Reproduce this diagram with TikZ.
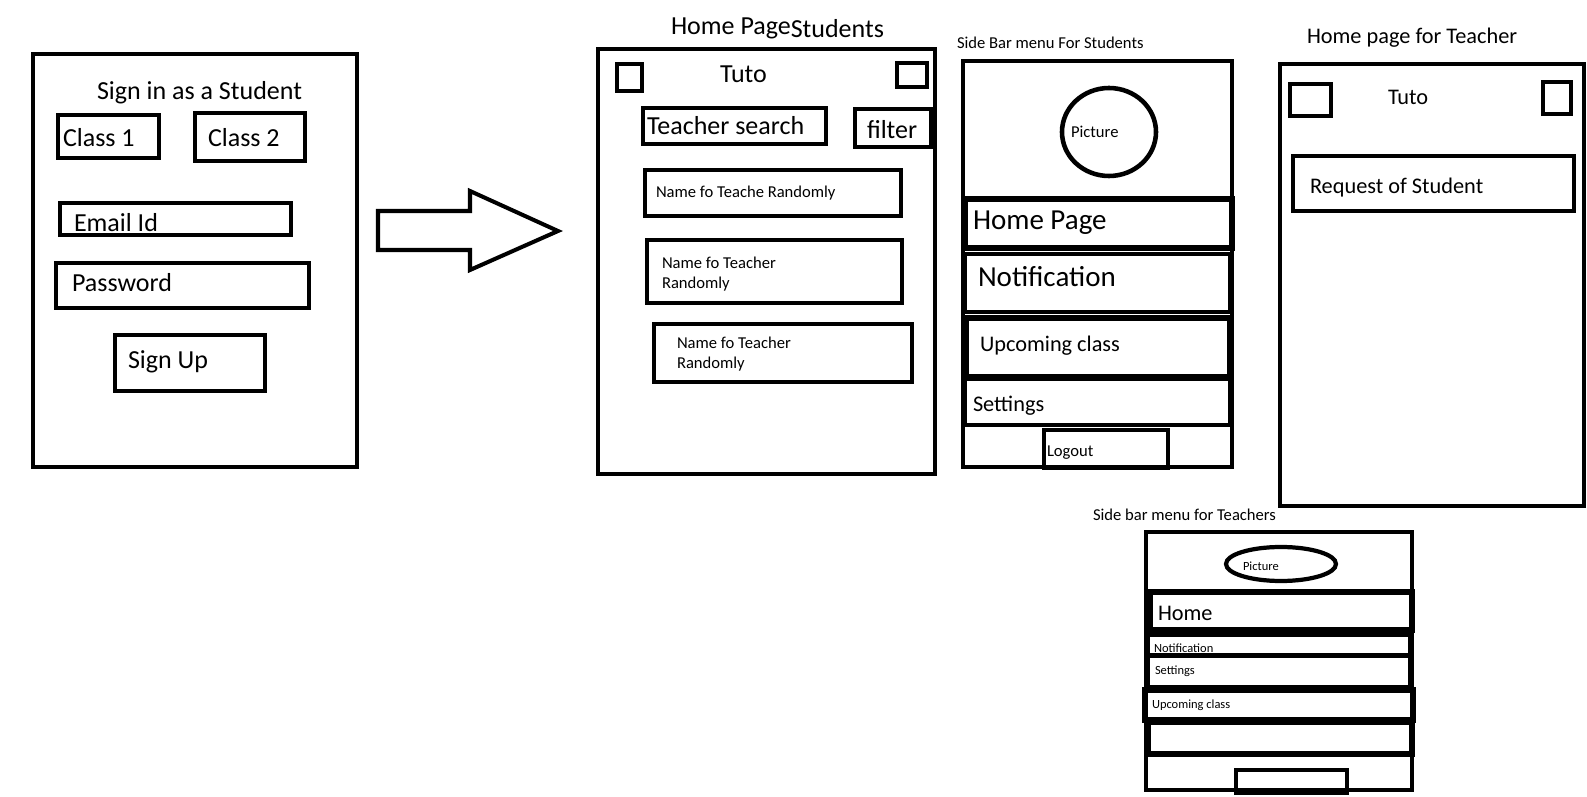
\documentclass[tikz,border=0pt]{standalone}
\usepackage{fontspec}
\setmainfont{Carlito}
\usetikzlibrary{fit}
\begin{document}
\begin{tikzpicture}[x=0.02cm,y=-0.02cm,
  box/.style={draw, inner sep=0pt, outer sep=0pt, line width=2.55pt},
  thk/.style={line width=3.3pt},
  thn/.style={line width=2.2pt},
  txt/.style={inner sep=0pt, outer sep=0pt, anchor=base west, yshift=-0.9pt},
  fXL/.style={font=\fontsize{16.5pt}{19pt}\selectfont},
  fL/.style={font=\fontsize{14.8pt}{17pt}\selectfont},
  fM/.style={font=\fontsize{12.7pt}{15pt}\selectfont},
  fS/.style={font=\fontsize{9.45pt}{11.3pt}\selectfont},
  fXS/.style={font=\fontsize{7.1pt}{8.5pt}\selectfont}]
\useasboundingbox (0,0) rectangle (1587,797);

% ---------- Sign in as a Student ----------
\node[box, fit={(33,54) (357,467)}] (signin) {};
\node[txt, fL] (tsignin) at (97,98) {Sign in as a Student};
\node[box, fit={(58,115) (159,158)}] (class1) {};
\node[txt, fL] (tclass1) at (63,145) {Class 1};
\node[box, fit={(195,113) (305,161)}] (class2) {};
\node[txt, fL] (tclass2) at (208,145) {Class 2};
\node[box, fit={(60,203) (291,235)}] (email) {};
\node[txt, fL] (temail) at (74,230) {Email Id};
\node[box, fit={(56,263) (309,308)}] (pass) {};
\node[txt, fL] (tpass) at (72,290) {Password};
\node[box, fit={(115,335) (265,391)}] (signup) {};
\node[txt, fL] (tsignup) at (128,367) {Sign Up};

% ---------- block arrow ----------
\draw[line width=2.3pt, line join=miter] (378,211) -- (470,211) -- (470,191) -- (558,231)
  -- (470,270) -- (470,250) -- (378,250) -- cycle;

% ---------- Home Page Students ----------
\node[txt, fL] (thome) at (671,33) {Home Page\raisebox{-1.5pt}{Students}};
\node[box, fit={(598,49) (935,474)}] (home) {};
\node[box, fit={(617,64) (642,91)}] (hsq1) {};
\node[box, fit={(897,63) (927,87)}] (hsq2) {};
\node[txt, fL] (htuto) at (720,81) {Tuto};
\node[box, fit={(643,108) (826,144)}] (search) {};
\node[txt, fL] (tsearch) at (647,133) {Teacher search};
\node[box, fit={(855,109) (931,147)}] (filter) {};
\node[txt, fL] (tfilter) at (867,137) {filter};
\node[box, fit={(645,170) (901,216)}] (name1) {};
\node[txt, fS] (tname1) at (656,196) {Name fo Teache Randomly};
\node[box, fit={(647,240) (902,303)}] (name2) {};
\node[txt, fS] (tname2a) at (662,267) {Name fo Teacher};
\node[txt, fS] (tname2b) at (662,287) {Randomly};
\node[box, fit={(654,324) (912,382)}] (name3) {};
\node[txt, fS] (tname3a) at (677,347) {Name fo Teacher};
\node[txt, fS] (tname3b) at (677,367) {Randomly};

% ---------- Side Bar menu For Students ----------
\node[txt, fS] (tsbs) at (957,47) {Side Bar menu For Students};
\node[box, fit={(963,61) (1232,467)}] (sbs) {};
\draw[line width=2.6pt] (1109,132) ellipse [x radius=47, y radius=44];
\node[txt, fS] (spic) at (1071,136) {Picture};
\node[box, thk, fit={(965,199) (1232,248)}] (shome) {};
\node[txt, fXL] (tshome) at (973,228) {Home Page};
\node[box, fit={(965,254) (1230,312)}] (snotif) {};
\node[txt, fXL] (tsnotif) at (978,285) {Notification};
\node[box, thk, fit={(966,318) (1230,377)}] (sup) {};
\node[txt, fM] (tsup) at (980,350) {Upcoming class};
\node[box, fit={(965,379) (1230,425)}] (sset) {};
\node[txt, fM] (tsset) at (973,410) {Settings};
\node[box, fit={(1044,430) (1168,468)}] (slog) {};
\node[txt, fS] (tslog) at (1047,455) {Logout};

% ---------- Home page for Teacher ----------
\node[txt, fM] (tthome) at (1307,42) {Home page for Teacher};
\node[box, fit={(1280,64) (1584,506)}] (thp) {};
\node[box, fit={(1290,84) (1331,116)}] (tsq1) {};
\node[box, fit={(1543,82) (1571,114)}] (tsq2) {};
\node[txt, fM] (ttuto) at (1388,103) {Tuto};
\node[box, fit={(1293,156) (1574,211)}] (req) {};
\node[txt, fM] (treq) at (1310,192) {Request of Student};

% ---------- Side bar menu for Teachers ----------
\node[txt, fS] (ttsb) at (1093,519) {Side bar menu for Teachers};
\node[box, fit={(1146,532) (1412,790)}] (tsb) {};
\draw[line width=2.4pt] (1281,564) ellipse [x radius=55, y radius=17];
\node[txt, fXS] (tpic) at (1243,569) {Picture};
\node[box, thk, fit={(1150,592) (1412,630)}] (thome2) {};
\node[txt, fM] (tthome2) at (1158,619) {Home};
\node[box, thn, fit={(1148,635) (1410,655)}] (tnot) {};
\node[txt, fXS] (ttnot) at (1154,651) {Notification};
\node[box, fit={(1148,656) (1410,687)}] (tset) {};
\node[txt, fXS] (ttset) at (1155,673) {Settings};
\node[box, thk, fit={(1145,690) (1413,720)}] (tup) {};
\node[txt, fXS] (ttup) at (1152,707) {Upcoming class};
\node[box, thk, fit={(1148,722) (1412,754)}] (tempty) {};
\node[box, fit={(1236,770) (1347,793)}] (tbtn) {};
\end{tikzpicture}
\end{document}
